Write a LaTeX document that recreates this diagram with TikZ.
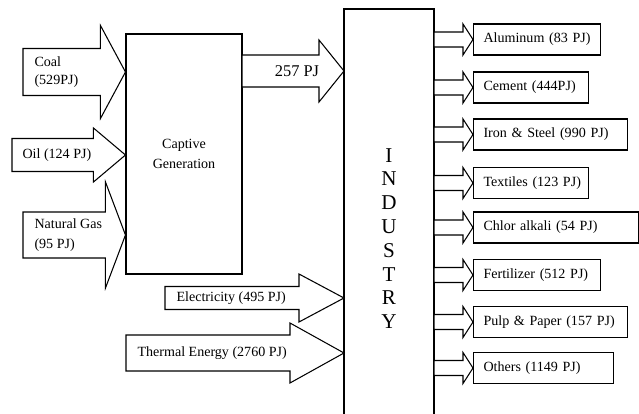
\documentclass[tikz,border=0pt]{standalone}
\usepackage{fontspec}
\setmainfont{Liberation Serif}
\usetikzlibrary{positioning, calc}

% block arrow: start, tip, head length, shaft half, head half (in px units)
\newcommand{\fatarrow}[5]{%
  \draw[fat] ($(#1)+(0,#4)$) -- ($(#2)+(-#3,#4)$) -- ($(#2)+(-#3,#5)$) -- (#2)
    -- ($(#2)+(-#3,-#5)$) -- ($(#2)+(-#3,-#4)$) -- ($(#1)+(0,-#4)$) -- cycle;}

\begin{document}
\begin{tikzpicture}[
    x=0.03cm, y=-0.03cm,
    line width=0.9pt,
    txt/.style={font=\fontsize{12}{15}\selectfont, inner sep=0, align=left},
    outbox/.style={draw, minimum height=0.93cm, inner xsep=0.3cm, inner ysep=0, font=\fontsize{12}{14}\selectfont, anchor=west, align=left},
    fat/.style={draw, fill=white, line join=miter}
]
    \useasboundingbox (0,0) rectangle (639,413);

    % boxes
    \node[draw, minimum width=3.48cm, minimum height=7.2cm, align=center, font=\fontsize{12}{17}\selectfont] (cap) at (184,154) {Captive\\Generation};
    \coordinate (indL) at (344,9);
    \coordinate (indR) at (434,9);
    \draw (344,415) -- (indL) -- (indR) -- (434,415);
    \node[align=center, inner sep=0, font=\fontsize{18}{20.3}\selectfont] (ind) at (389,238.5) {I\\N\\D\\U\\S\\T\\R\\Y};

    % inputs
    \coordinate (coalS) at (23,72);
    \coordinate (oilS) at (12,155);
    \coordinate (gasS) at (23,235);
    \coordinate (pjS) at (242,71);
    \coordinate (elecS) at (165,298);
    \coordinate (thermS) at (126,353);
    \fatarrow{coalS}{cap.west |- coalS}{25}{23.5}{46.5}
    \fatarrow{oilS}{cap.west |- oilS}{32}{16.5}{27}
    \fatarrow{gasS}{cap.west |- gasS}{20}{23}{53}
    \fatarrow{pjS}{indL |- pjS}{25}{16}{31}
    \fatarrow{elecS}{indL |- elecS}{45}{11.5}{24}
    \fatarrow{thermS}{indL |- thermS}{54}{18}{30}

    \node[txt, anchor=west] (coal) at (34,72) {Coal\\(529PJ)};
    \node[txt, anchor=west] (oil) at (22,155) {Oil (124 PJ)};
    \node[txt, anchor=west, font=\fontsize{12}{17.5}\selectfont] (gas) at (34,235) {Natural Gas\\(95 PJ)};
    \node[txt, font=\fontsize{14}{16}\selectfont] (pj) at (297,71) {257 PJ};
    \node[txt, anchor=west] (elec) at (176,298) {Electricity (495 PJ)};
    \node[txt, anchor=west] (therm) at (137,353) {Thermal Energy (2760 PJ)};

    % outputs
    \foreach \y/\tw/\nm/\lbl in {39.5/3.21/alu/Aluminum (83 PJ), 87.5/2.85/cem/Cement (444PJ),
        134.5/4.02/iron/Iron \& Steel (990 PJ), 183/2.85/tex/Textiles (123 PJ),
        227.5/4.35/chl/Chlor alkali (54 PJ), 275/3.21/fer/Fertilizer (512 PJ),
        322/4.02/pulp/Pulp \& Paper (157 PJ), 368/3.6/oth/Others (1149 PJ)}
    {
        \node[outbox, text width=\tw cm] (\nm) at (473,\y) {\makebox[\linewidth][l]{\lbl}};
        \fatarrow{indR |- \nm.west}{\nm.west}{10}{7.5}{15.5}
    }
\end{tikzpicture}
\end{document}
